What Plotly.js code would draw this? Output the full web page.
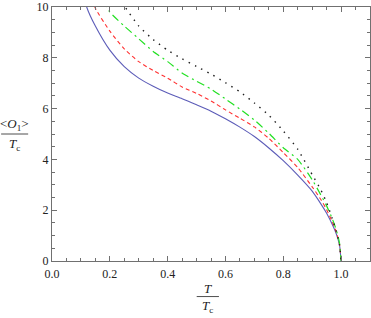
<!DOCTYPE html>
<html>
<head>
<meta charset="utf-8">
<script src="https://cdn.plot.ly/plotly-3.0.1.min.js"></script>
<style>
html,body{margin:0;padding:0;background:#fff;}
#chart{width:371px;height:318px;}
#chart svg text{font-family:"Liberation Serif","Times New Roman",serif !important;}
</style>
</head>
<body>
<div id="chart"></div>
<script>
// T / Tc values for each curve
const tBlue  = [0.11, 0.12, 0.15, 0.20, 0.25, 0.30, 0.35, 0.40, 0.45, 0.50, 0.55, 0.60, 0.65, 0.70, 0.75, 0.80, 0.85, 0.90, 0.93, 0.95, 0.97, 0.98, 0.99, 0.995, 1.0];
const oBlue  = [10.5, 10.0, 9.25, 8.30, 7.65, 7.20, 6.88, 6.61, 6.39, 6.15, 5.90, 5.60, 5.27, 4.90, 4.45, 3.95, 3.38, 2.75, 2.25, 1.88, 1.43, 1.17, 0.83, 0.59, 0];

const tRed   = [0.14, 0.15, 0.20, 0.25, 0.30, 0.35, 0.40, 0.45, 0.50, 0.55, 0.60, 0.65, 0.70, 0.75, 0.80, 0.85, 0.90, 0.93, 0.95, 0.97, 0.98, 0.99, 0.995, 1.0];
const oRed   = [10.3, 9.95, 9.05, 8.35, 7.85, 7.50, 7.20, 6.85, 6.60, 6.30, 5.95, 5.62, 5.28, 4.83, 4.27, 3.68, 2.92, 2.42, 2.02, 1.53, 1.25, 0.89, 0.63, 0];

const tGreen = [0.18, 0.19, 0.20, 0.25, 0.30, 0.35, 0.40, 0.45, 0.50, 0.55, 0.60, 0.65, 0.70, 0.75, 0.80, 0.85, 0.90, 0.93, 0.95, 0.97, 0.98, 0.99, 0.995, 1.0];
const oGreen = [10.3, 10.0, 9.80, 9.25, 8.75, 8.25, 7.85, 7.40, 7.08, 6.77, 6.38, 5.98, 5.55, 5.03, 4.46, 4.00, 3.20, 2.60, 2.17, 1.65, 1.34, 0.95, 0.67, 0];

const tBlack = [0.245, 0.25, 0.30, 0.35, 0.40, 0.45, 0.50, 0.55, 0.60, 0.65, 0.70, 0.75, 0.80, 0.85, 0.90, 0.93, 0.95, 0.97, 0.98, 0.99, 0.995, 1.0];
const oBlack = [10.2, 10.06, 9.25, 8.72, 8.30, 7.96, 7.66, 7.36, 7.02, 6.66, 6.22, 5.74, 5.12, 4.40, 3.40, 2.80, 2.30, 1.65, 1.30, 0.88, 0.60, 0];

const xTickVals = [0, 0.2, 0.4, 0.6, 0.8, 1.0];
const xTickText = ["0.0", "0.2", "0.4", "0.6", "0.8", "1.0"];
const yTickVals = [0, 2, 4, 6, 8, 10];
const yTickText = ["0", "2", "4", "6", "8", "10"];

const serif = "Liberation Serif";
const frame = "#707070";

const traces = [
  {x: tBlue,  y: oBlue,  mode: "lines", line: {color: "#5c5cb8", width: 1.1, shape: "spline", smoothing: 0.6}},
  {x: tRed,   y: oRed,   mode: "lines", line: {color: "#ff3030", width: 1.1, dash: "4px,3px", shape: "spline", smoothing: 0.6}},
  {x: tGreen, y: oGreen, mode: "lines", line: {color: "#22e022", width: 1.2, dash: "8px,4px,2px,4px", shape: "spline", smoothing: 0.6}},
  {x: tBlack, y: oBlack, mode: "lines", line: {color: "#202020", width: 1.4, dash: "1.5px,5.5px", shape: "spline", smoothing: 0.6}}
];

const axisCommon = {
  showline: true, linecolor: frame, linewidth: 1, mirror: "ticks",
  ticks: "inside", ticklen: 5, tickcolor: frame, tickwidth: 1,
  showgrid: false, zeroline: false,
  tickfont: {family: serif, size: 12, color: "#222"}
};

const layout = {
  width: 371, height: 318,
  margin: {l: 52, r: 1, t: 7, b: 57},
  paper_bgcolor: "#fff", plot_bgcolor: "#fff",
  showlegend: false,
  font: {family: serif, size: 12, color: "#222"},
  xaxis: Object.assign({}, axisCommon, {
    range: [0, 1.1], tickmode: "array", tickvals: xTickVals, ticktext: xTickText,
    ticklabelstandoff: 2,
    minor: {dtick: 0.05, ticks: "inside", ticklen: 3, tickcolor: frame, showgrid: false}
  }),
  yaxis: Object.assign({}, axisCommon, {
    range: [0, 10], tickmode: "array", tickvals: yTickVals, ticktext: yTickText,
    minor: {dtick: 0.5, ticks: "inside", ticklen: 3, tickcolor: frame, showgrid: false}
  }),
  annotations: [
    {xref: "paper", yref: "paper", x: 0.49, y: -0.107, text: "<i>T</i>", showarrow: false,
     font: {family: serif, size: 13, color: "#222"}, xanchor: "center", yanchor: "middle"},
    {xref: "paper", yref: "paper", x: 0.49, y: -0.18, text: "<i>T</i><sub>c</sub>", showarrow: false,
     font: {family: serif, size: 13, color: "#222"}, xanchor: "center", yanchor: "middle"},
    {xref: "paper", yref: "paper", x: -0.118, y: 0.537, text: "&lt;<i>O</i><sub>1</sub>&gt;", showarrow: false,
     font: {family: serif, size: 13, color: "#222"}, xanchor: "center", yanchor: "middle"},
    {xref: "paper", yref: "paper", x: -0.118, y: 0.459, text: "<i>T</i><sub>c</sub>", showarrow: false,
     font: {family: serif, size: 13, color: "#222"}, xanchor: "center", yanchor: "middle"}
  ],
  shapes: [
    {type: "line", xref: "paper", yref: "paper", x0: 0.455, x1: 0.525, y0: -0.14, y1: -0.14,
     line: {color: "#222", width: 0.8}},
    {type: "line", xref: "paper", yref: "paper", x0: -0.16, x1: -0.075, y0: 0.50, y1: 0.50,
     line: {color: "#222", width: 0.8}}
  ]
};

Plotly.newPlot("chart", traces, layout, {displayModeBar: false, staticPlot: true});
</script>
</body>
</html>
